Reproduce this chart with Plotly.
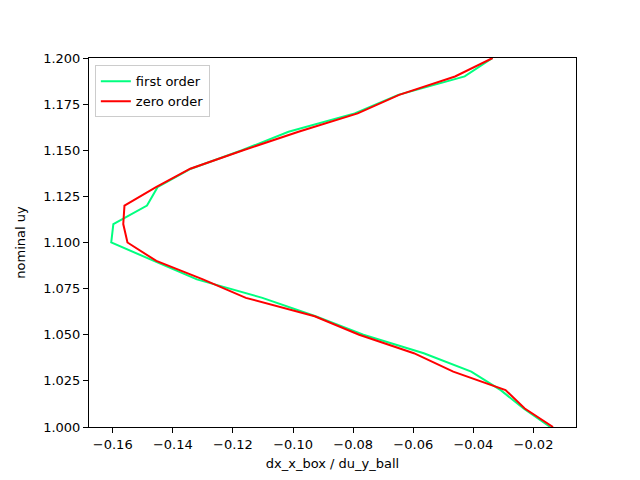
import plotly.graph_objects as go

uy = [1.00, 1.01, 1.02, 1.03, 1.04, 1.05, 1.06, 1.07, 1.08, 1.09, 1.10,
      1.11, 1.12, 1.13, 1.14, 1.15, 1.16, 1.17, 1.18, 1.19, 1.20]

first_order = [-0.0144, -0.0233, -0.0309, -0.0407, -0.0565, -0.0766, -0.0925,
               -0.1102, -0.1320, -0.1465, -0.1605, -0.1598, -0.1486, -0.1451,
               -0.1340, -0.1170, -0.1015, -0.0795, -0.0650, -0.0429, -0.0336]

zero_order = [-0.0135, -0.0229, -0.0293, -0.0467, -0.0598, -0.0780, -0.0928,
              -0.1157, -0.1300, -0.1455, -0.1551, -0.1565, -0.1561, -0.1456,
              -0.1342, -0.1166, -0.0982, -0.0785, -0.0647, -0.0461, -0.0336]

x_ticks = [-0.16, -0.14, -0.12, -0.10, -0.08, -0.06, -0.04, -0.02]
x_tick_labels = ["\u22120.16", "\u22120.14", "\u22120.12", "\u22120.10",
                 "\u22120.08", "\u22120.06", "\u22120.04", "\u22120.02"]
y_ticks = [1.000, 1.025, 1.050, 1.075, 1.100, 1.125, 1.150, 1.175, 1.200]
y_tick_labels = ["%.3f" % v for v in y_ticks]

fig = go.Figure()
fig.add_trace(go.Scatter(x=first_order, y=uy, mode="lines", name="first order",
                         line=dict(color="#00ff7f", width=2)))
fig.add_trace(go.Scatter(x=zero_order, y=uy, mode="lines", name="zero order",
                         line=dict(color="#ff0000", width=2)))

axis_common = dict(showline=True, linecolor="black", linewidth=1, mirror=True,
                   ticks="outside", ticklen=5, tickcolor="black", showgrid=False,
                   zeroline=False, tickfont=dict(family="DejaVu Sans", size=13, color="black"))

fig.update_layout(
    width=640, height=480,
    margin=dict(l=72, r=72, t=50, b=61),
    paper_bgcolor="white", plot_bgcolor="white",
    font=dict(family="DejaVu Sans", size=13, color="black"),
    xaxis=dict(range=[-0.1679, -0.00585], tickvals=x_ticks, ticktext=x_tick_labels,
               title=dict(text="dx_x_box / du_y_ball", standoff=8,
                          font=dict(family="DejaVu Sans", size=13, color="black")),
               **axis_common),
    yaxis=dict(range=[1.0, 1.2], tickvals=y_ticks, ticktext=y_tick_labels,
               title=dict(text="nominal uy", standoff=14,
                          font=dict(family="DejaVu Sans", size=13, color="black")),
               **axis_common),
    legend=dict(x=0.012, y=0.98, xanchor="left", yanchor="top",
                bordercolor="#cccccc", borderwidth=1, bgcolor="rgba(255,255,255,0.8)",
                tracegroupgap=4,
                font=dict(family="DejaVu Sans", size=13)),
    showlegend=True,
)

fig.write_html("out.html")
